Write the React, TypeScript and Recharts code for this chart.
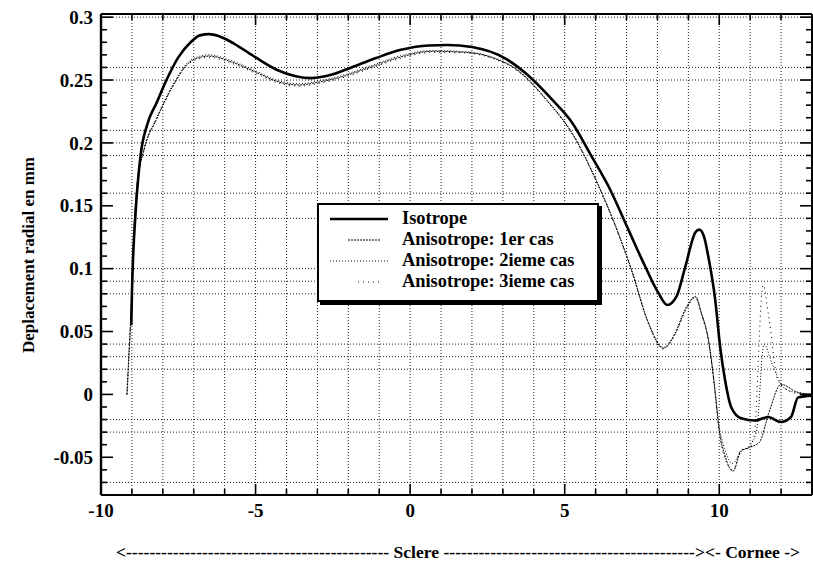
import { LineChart, Line, XAxis, YAxis, ReferenceLine, Legend } from "recharts";

const FONT = '"Liberation Serif", "Times New Roman", serif';

// axis ticks (every unit / every 0.01), labelled majors
const xTicks = [-10, -9, -8, -7, -6, -5, -4, -3, -2, -1, 0, 1, 2, 3, 4, 5, 6, 7, 8, 9, 10, 11, 12, 13];
const xLabels = [-10, -5, 0, 5, 10];
const yTicks = [
  -0.08, -0.07, -0.06, -0.05, -0.04, -0.03, -0.02, -0.01, 0, 0.01, 0.02, 0.03, 0.04, 0.05,
  0.06, 0.07, 0.08, 0.09, 0.1, 0.11, 0.12, 0.13, 0.14, 0.15, 0.16, 0.17, 0.18, 0.19, 0.2,
  0.21, 0.22, 0.23, 0.24, 0.25, 0.26, 0.27, 0.28, 0.29, 0.3,
];
const yLabels = [-0.05, 0, 0.05, 0.1, 0.15, 0.2, 0.25, 0.3];

// dotted grid lines as they appear on the plot
const gridX = [-9, -8, -7, -6, -5, -4, -3, -2, -1, 0, 1, 2, 3, 4, 5, 6, 7, 8, 9, 10, 11, 12];
const gridY = [0.3, 0.26, 0.25, 0.21, 0.2, 0.19, 0.16, 0.14, 0.1, 0.09, 0.08, 0.04, 0.03, 0.02, -0.02, -0.03, -0.07];

const isotrope = [
  { x: -9.02, y: 0.055 }, { x: -9.0, y: 0.08 }, { x: -8.96, y: 0.11 }, { x: -8.88, y: 0.145 },
  { x: -8.72, y: 0.19 }, { x: -8.5, y: 0.215 }, { x: -8.2, y: 0.232 }, { x: -7.9, y: 0.249 },
  { x: -7.5, y: 0.268 }, { x: -7.1, y: 0.28 }, { x: -6.8, y: 0.2855 }, { x: -6.5, y: 0.2865 },
  { x: -6.2, y: 0.285 }, { x: -5.7, y: 0.279 }, { x: -5.0, y: 0.268 }, { x: -4.3, y: 0.258 },
  { x: -3.7, y: 0.253 }, { x: -3.2, y: 0.2515 }, { x: -2.5, y: 0.2545 }, { x: -1.9, y: 0.26 },
  { x: -1.1, y: 0.2675 }, { x: -0.3, y: 0.274 }, { x: 0.6, y: 0.2775 }, { x: 1.2, y: 0.2778 },
  { x: 2.0, y: 0.2762 }, { x: 3.1, y: 0.2668 }, { x: 3.84, y: 0.2532 }, { x: 4.58, y: 0.2348 },
  { x: 5.23, y: 0.2165 }, { x: 5.87, y: 0.1893 }, { x: 6.42, y: 0.1653 }, { x: 7.06, y: 0.131 },
  { x: 7.61, y: 0.1014 }, { x: 8.03, y: 0.0807 }, { x: 8.32, y: 0.0711 }, { x: 8.61, y: 0.0775 },
  { x: 8.9, y: 0.1014 }, { x: 9.23, y: 0.129 }, { x: 9.35, y: 0.131 }, { x: 9.5, y: 0.126 },
  { x: 9.65, y: 0.109 }, { x: 9.87, y: 0.075 }, { x: 10.03, y: 0.0375 }, { x: 10.19, y: 0.011 },
  { x: 10.39, y: -0.0104 }, { x: 10.71, y: -0.019 }, { x: 11.16, y: -0.0208 }, { x: 11.58, y: -0.018 },
  { x: 12.0, y: -0.022 }, { x: 12.32, y: -0.018 }, { x: 12.55, y: -0.0024 }, { x: 13.0, y: -0.001 },
];

const aniso1 = [
  { x: -9.16, y: 0.0 }, { x: -9.1, y: 0.03 }, { x: -9.02, y: 0.07 }, { x: -8.95, y: 0.12 },
  { x: -8.84, y: 0.165 }, { x: -8.6, y: 0.195 }, { x: -8.2, y: 0.219 }, { x: -7.68, y: 0.245 },
  { x: -7.23, y: 0.262 }, { x: -6.8, y: 0.268 }, { x: -6.5, y: 0.269 }, { x: -5.74, y: 0.264 },
  { x: -4.97, y: 0.256 }, { x: -4.32, y: 0.249 }, { x: -3.58, y: 0.246 }, { x: -3.03, y: 0.248 },
  { x: -2.29, y: 0.252 }, { x: -1.42, y: 0.259 }, { x: -0.35, y: 0.268 }, { x: 0.71, y: 0.2728 },
  { x: 1.8, y: 0.272 }, { x: 2.77, y: 0.2668 }, { x: 3.4, y: 0.259 }, { x: 4.39, y: 0.2348 },
  { x: 5.35, y: 0.203 }, { x: 6.0, y: 0.171 }, { x: 6.65, y: 0.1334 }, { x: 7.16, y: 0.099 },
  { x: 7.71, y: 0.0567 }, { x: 8.19, y: 0.0367 }, { x: 8.58, y: 0.0487 }, { x: 8.9, y: 0.067 },
  { x: 9.23, y: 0.0775 }, { x: 9.42, y: 0.0647 }, { x: 9.65, y: 0.043 }, { x: 9.87, y: 0.001 },
  { x: 9.97, y: -0.023 }, { x: 10.2, y: -0.05 }, { x: 10.45, y: -0.061 }, { x: 10.7, y: -0.045 },
  { x: 11.0, y: -0.042 }, { x: 11.3, y: -0.038 }, { x: 11.6, y: -0.015 }, { x: 12.0, y: 0.008 },
  { x: 12.5, y: 0.002 }, { x: 13.0, y: 0.0 },
];

const aniso2 = [
  { x: -9.15, y: 0.0 }, { x: -9.09, y: 0.032 }, { x: -9.01, y: 0.072 }, { x: -8.94, y: 0.121 },
  { x: -8.83, y: 0.166 }, { x: -8.6, y: 0.196 }, { x: -8.2, y: 0.22 }, { x: -7.68, y: 0.246 },
  { x: -7.23, y: 0.263 }, { x: -6.8, y: 0.269 }, { x: -6.5, y: 0.27 }, { x: -5.74, y: 0.265 },
  { x: -4.97, y: 0.257 }, { x: -4.32, y: 0.25 }, { x: -3.58, y: 0.247 }, { x: -3.03, y: 0.249 },
  { x: -2.29, y: 0.253 }, { x: -1.42, y: 0.26 }, { x: -0.35, y: 0.269 }, { x: 0.71, y: 0.2735 },
  { x: 1.8, y: 0.2725 }, { x: 2.77, y: 0.2672 }, { x: 3.4, y: 0.2595 }, { x: 4.39, y: 0.2352 },
  { x: 5.35, y: 0.2035 }, { x: 6.0, y: 0.1715 }, { x: 6.65, y: 0.134 }, { x: 7.16, y: 0.0995 },
  { x: 7.71, y: 0.057 }, { x: 8.19, y: 0.0375 }, { x: 8.58, y: 0.0495 }, { x: 8.9, y: 0.068 },
  { x: 9.23, y: 0.078 }, { x: 9.42, y: 0.065 }, { x: 9.65, y: 0.044 }, { x: 9.87, y: 0.002 },
  { x: 9.97, y: -0.02 }, { x: 10.2, y: -0.045 }, { x: 10.42, y: -0.055 }, { x: 10.7, y: -0.046 },
  { x: 11.0, y: -0.04 }, { x: 11.2, y: -0.03 }, { x: 11.45, y: 0.04 }, { x: 11.7, y: 0.025 },
  { x: 12.1, y: 0.005 }, { x: 12.6, y: 0.001 }, { x: 13.0, y: 0.0 },
];

const aniso3 = [
  { x: -9.17, y: 0.0 }, { x: -9.11, y: 0.028 }, { x: -9.03, y: 0.068 }, { x: -8.96, y: 0.118 },
  { x: -8.85, y: 0.163 }, { x: -8.62, y: 0.194 }, { x: -8.22, y: 0.218 }, { x: -7.7, y: 0.244 },
  { x: -7.25, y: 0.261 }, { x: -6.8, y: 0.267 }, { x: -6.5, y: 0.268 }, { x: -5.74, y: 0.263 },
  { x: -4.97, y: 0.255 }, { x: -4.32, y: 0.248 }, { x: -3.58, y: 0.245 }, { x: -3.03, y: 0.247 },
  { x: -2.29, y: 0.251 }, { x: -1.42, y: 0.258 }, { x: -0.35, y: 0.267 }, { x: 0.71, y: 0.272 },
  { x: 1.8, y: 0.2715 }, { x: 2.77, y: 0.2662 }, { x: 3.4, y: 0.2585 }, { x: 4.39, y: 0.2342 },
  { x: 5.35, y: 0.2025 }, { x: 6.0, y: 0.1705 }, { x: 6.65, y: 0.1328 }, { x: 7.16, y: 0.0985 },
  { x: 7.71, y: 0.056 }, { x: 8.19, y: 0.036 }, { x: 8.58, y: 0.048 }, { x: 8.9, y: 0.066 },
  { x: 9.23, y: 0.077 }, { x: 9.42, y: 0.064 }, { x: 9.65, y: 0.042 }, { x: 9.87, y: 0.0 },
  { x: 9.97, y: -0.025 }, { x: 10.2, y: -0.052 }, { x: 10.45, y: -0.06 }, { x: 10.7, y: -0.044 },
  { x: 10.95, y: -0.043 }, { x: 11.12, y: -0.034 }, { x: 11.42, y: 0.087 }, { x: 11.6, y: 0.062 },
  { x: 11.9, y: 0.011 }, { x: 12.45, y: 0.001 }, { x: 13.0, y: 0.0 },
];

const series = [
  { name: "Isotrope", data: isotrope, width: 2.6, dash: undefined as string | undefined, s0: 11, s1: 69 },
  { name: "Anisotrope: 1er cas", data: aniso1, width: 1, dash: "2 1", s0: 29, s1: 61 },
  { name: "Anisotrope: 2ieme cas", data: aniso2, width: 1, dash: "1 2", s0: 11, s1: 69 },
  { name: "Anisotrope: 3ieme cas", data: aniso3, width: 1, dash: "1 4", s0: 39, s1: 61 },
];
const legendText = ["Isotrope", "Anisotrope: 1er cas", "Anisotrope: 2ieme cas", "Anisotrope: 3ieme cas"];
const bottomCaption = "<" + "-".repeat(45) + " Sclere " + "-".repeat(43) + "><- Cornee ->";

const isMajor = (list: number[], v: number) => list.some((l) => Math.abs(l - v) < 1e-9);

const BottomTick = (props: any) => {
  const { x, y, payload } = props;
  const major = isMajor(xLabels, payload.value);
  const ay = y - 8;
  return (
    <g>
      <line x1={x} x2={x} y1={ay} y2={ay - (major ? 11 : 6)} stroke="#000" strokeWidth={1.6} />
      {major && (
        <text x={x} y={y + 14} textAnchor="middle" fontFamily={FONT} fontWeight="bold" fontSize={19} fill="#000">
          {payload.value}
        </text>
      )}
    </g>
  );
};

const TopTick = (props: any) => {
  const { x, y, payload } = props;
  const major = isMajor(xLabels, payload.value);
  return <line x1={x} x2={x} y1={y} y2={y + (major ? 11 : 6)} stroke="#000" strokeWidth={1.6} />;
};

const LeftTick = (props: any) => {
  const { x, y, payload } = props;
  const major = isMajor(yLabels, payload.value);
  const ax = x + 8;
  return (
    <g>
      <line x1={ax} x2={ax + (major ? 12 : 6)} y1={y} y2={y} stroke="#000" strokeWidth={1.6} />
      {major && (
        <text x={x} y={y} dy="0.35em" textAnchor="end" fontFamily={FONT} fontWeight="bold" fontSize={19} fill="#000">
          {String(payload.value)}
        </text>
      )}
    </g>
  );
};

const RightTick = (props: any) => {
  const { x, y, payload } = props;
  const major = isMajor(yLabels, payload.value);
  return <line x1={x} x2={x - (major ? 12 : 6)} y1={y} y2={y} stroke="#000" strokeWidth={1.6} />;
};

const Captions = () => (
  <g fontFamily={FONT} fontWeight="bold" fontSize={17} fill="#000">
    <text x={28} y={255} textAnchor="middle" transform="rotate(-90 28 255)" dy="0.35em">
      Deplacement radial en mm
    </text>
    <text x={116} y={558} textLength={684} lengthAdjust="spacingAndGlyphs">
      {bottomCaption}
    </text>
  </g>
);

const LegendBox = () => (
  <div
    style={{
      width: 278,
      height: 92,
      border: "2px solid #000",
      boxShadow: "3px 3px 0 #000",
      background: "#fff",
      paddingTop: 3,
      boxSizing: "content-box",
      fontFamily: FONT,
      fontWeight: "bold",
      fontSize: 18.4,
      color: "#000",
    }}
  >
    {series.map((s, i) => (
      <div key={s.name} style={{ display: "flex", alignItems: "center", height: 21, lineHeight: "21px" }}>
        <svg width={83} height={21} style={{ flex: "none" }}>
          <line x1={s.s0} x2={s.s1} y1={11} y2={11} stroke="#000" strokeWidth={s.width} strokeDasharray={s.dash} />
        </svg>
        <span style={{ whiteSpace: "nowrap" }}>{legendText[i]}</span>
      </div>
    ))}
  </div>
);

export default function App() {
  return (
    <div style={{ position: "absolute", left: 0, top: 0, background: "#fff" }}>
      <LineChart width={813} height={572} margin={{ top: 0, right: 0, bottom: 0, left: 0 }}>
        <XAxis
          type="number"
          dataKey="x"
          domain={[-10, 13]}
          ticks={xTicks}
          interval={0}
          allowDataOverflow
          height={77}
          tickSize={0}
          tickMargin={8}
          tick={<BottomTick />}
          axisLine={{ stroke: "#000", strokeWidth: 2 }}
          label={{ content: () => <Captions /> }}
        />
        <XAxis
          xAxisId="top"
          orientation="top"
          type="number"
          dataKey="x"
          domain={[-10, 13]}
          ticks={xTicks}
          interval={0}
          allowDataOverflow
          height={14}
          tickSize={0}
          tickMargin={0}
          tick={<TopTick />}
          axisLine={{ stroke: "#000", strokeWidth: 2 }}
        />
        <YAxis
          type="number"
          domain={[-0.08, 0.3025]}
          ticks={yTicks}
          interval={0}
          allowDataOverflow
          width={101}
          tickSize={0}
          tickMargin={8}
          tick={<LeftTick />}
          axisLine={{ stroke: "#000", strokeWidth: 2.4 }}
        />
        <YAxis
          yAxisId="right"
          orientation="right"
          type="number"
          domain={[-0.08, 0.3025]}
          ticks={yTicks}
          interval={0}
          allowDataOverflow
          width={1}
          tickSize={0}
          tickMargin={0}
          tick={<RightTick />}
          axisLine={{ stroke: "#000", strokeWidth: 2 }}
        />
        {gridX.map((v) => (
          <ReferenceLine key={"gx" + v} x={v} stroke="#222" strokeWidth={1} strokeDasharray="1 2" />
        ))}
        {gridY.map((v) => (
          <ReferenceLine key={"gy" + v} y={v} stroke="#222" strokeWidth={1} strokeDasharray="1 2" />
        ))}
        {series.map((s) => (
          <Line
            key={s.name}
            data={s.data}
            dataKey="y"
            name={s.name}
            type="monotone"
            stroke="#000"
            strokeWidth={s.width}
            strokeDasharray={s.dash}
            dot={false}
            activeDot={false}
            isAnimationActive={false}
          />
        ))}
        <Legend
          layout="vertical"
          verticalAlign="middle"
          align="center"
          content={() => <LegendBox />}
          wrapperStyle={{ left: 317, top: 203, width: 284, height: 99 }}
        />
      </LineChart>
    </div>
  );
}
